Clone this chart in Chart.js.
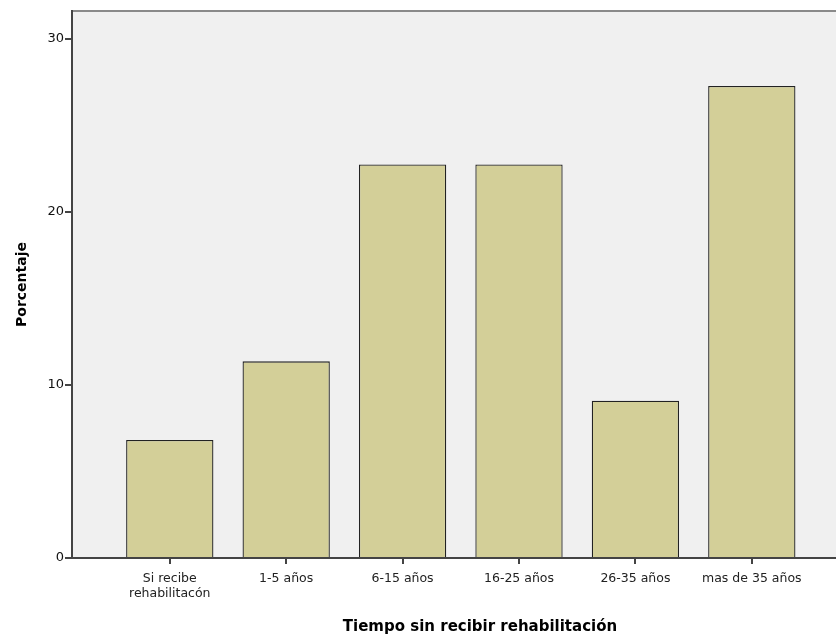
<!DOCTYPE html>
<html>
<head>
<meta charset="utf-8">
<script src="https://cdn.jsdelivr.net/npm/chart.js@4/dist/chart.umd.min.js"></script>
<style>
  html, body { margin: 0; padding: 0; background: #fff; overflow: hidden; }
  canvas { display: block; }
</style>
</head>
<body>
<canvas id="chart" width="898" height="636"></canvas>
<script>
// Datos (porcentaje, n = 44)
const categorias = [["Si recibe", "rehabilitacón"], "1-5 años", "6-15 años", "16-25 años", "26-35 años", "mas de 35 años"];
const porcentajes = [6.82, 11.36, 22.73, 22.73, 9.09, 27.27];
const ticksY = [0, 10, 20, 30];

// fondo gris y borde superior del area de trazado
const fondoPlot = {
    id: "fondoPlot",
    beforeDraw(chart) {
        const { ctx, chartArea: a } = chart;
        ctx.save();
        ctx.fillStyle = "#f0f0f0";
        ctx.fillRect(a.left, a.top, a.right - a.left, a.bottom - a.top);
        ctx.strokeStyle = "#8a8a8a";
        ctx.lineWidth = 2;
        ctx.beginPath();
        ctx.moveTo(a.left, a.top);
        ctx.lineTo(a.right, a.top);
        ctx.stroke();
        ctx.restore();
    }
};

new Chart(document.getElementById("chart"), {
    type: "bar",
    data: {
        datasets: [{
            label: "Porcentaje",
            data: porcentajes.map((v, i) => ({ x: i, y: v })),
            backgroundColor: "#d3cf98",
            borderColor: "#222",
            borderWidth: 1.3,
            categoryPercentage: 1,
            barPercentage: 0.75
        }]
    },
    options: {
        responsive: false,
        animation: false,
        layout: { padding: { top: 11, right: 10, left: 0, bottom: 0 } },
        plugins: { legend: { display: false }, tooltip: { enabled: false } },
        scales: {
            x: {
                type: "linear",
                min: -0.84,
                max: 6.17,
                offset: false,
                afterFit: s => { s.height = 78; },
                border: { display: true, color: "#444", width: 2 },
                grid: { offset: false, drawOnChartArea: false, tickLength: 6, color: "#444", lineWidth: 2 },
                ticks: {
                    stepSize: 1,
                    includeBounds: false,
                    autoSkip: false,
                    maxRotation: 0,
                    padding: 8,
                    color: "#222",
                    font: { family: "DejaVu Sans", size: 12.5, lineHeight: 1.15 },
                    callback: v => Number.isInteger(v) ? categorias[v] : ""
                },
                title: {
                    display: true,
                    text: "Tiempo sin recibir rehabilitación",
                    color: "#000",
                    font: { family: "DejaVu Sans", size: 15, weight: "bold" },
                    padding: { top: 6, bottom: 0 }
                }
            },
            y: {
                min: 0,
                max: 31.6,
                afterFit: s => { s.width = 72; },
                afterBuildTicks: s => { s.ticks = ticksY.map(v => ({ value: v })); },
                border: { display: true, color: "#444", width: 2 },
                grid: { drawOnChartArea: false, tickLength: 7, color: "#444", lineWidth: 2 },
                ticks: {
                    padding: 1,
                    color: "#111",
                    font: { family: "DejaVu Sans", size: 13 }
                },
                title: {
                    display: true,
                    text: "Porcentaje",
                    color: "#000",
                    font: { family: "DejaVu Sans", size: 14, weight: "bold" },
                    padding: { top: 14, bottom: 0 }
                }
            }
        }
    },
    plugins: [fondoPlot]
});
</script>
</body>
</html>
